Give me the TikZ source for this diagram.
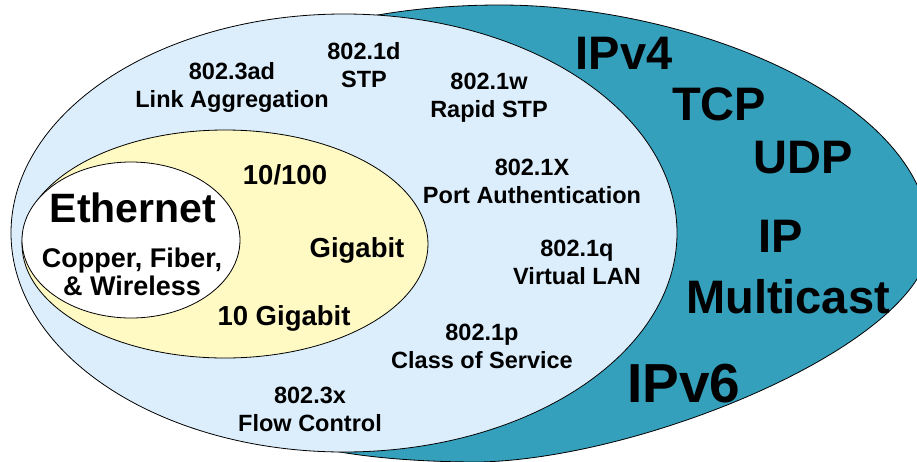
\documentclass[tikz,border=0pt]{standalone}
\usepackage{fontspec}
\setmainfont{Liberation Sans}
\usepackage{tikz}

\definecolor{ipteal}{RGB}{52,160,188}
\definecolor{lanblue}{RGB}{220,238,252}
\definecolor{phyyellow}{RGB}{255,249,196}

\begin{document}
\begin{tikzpicture}[x=1pt,y=-1pt,
  rim/.style={draw=black,line width=0.8pt},
  std/.style={font=\bfseries\fontsize{23.5}{28}\selectfont,align=center,inner sep=0pt},
  speed/.style={font=\bfseries\fontsize{27.5}{30}\selectfont,inner sep=0pt},
  proto/.style={font=\bfseries\fontsize{47}{50}\selectfont,inner sep=0pt}]
\useasboundingbox (0,0) rectangle (917,461);
\clip (0,0) rectangle (917,461);

% Draw upper layer protocols
\filldraw[rim,fill=ipteal] (500,5) .. controls (690,5) and (930,100) .. (930,240)
  .. controls (930,340) and (650,458) .. (480,462)
  .. controls (250,462) and (120,400) .. (120,233)
  .. controls (120,80) and (300,5) .. (500,5) -- cycle;

% IEEE 802 standards
\filldraw[rim,fill=lanblue] (344,233) ellipse [x radius=333, y radius=219];

% Speeds
\filldraw[rim,fill=phyyellow] (225,244) ellipse [x radius=203, y radius=114];

% Ethernet core
\filldraw[rim,fill=white] (131,240) ellipse [x radius=109, y radius=78];

% Labels in the core
\node[font=\bfseries\fontsize{41}{44}\selectfont,inner sep=0pt] (eth) at (133,208) {Ethernet};
\node[font=\bfseries\fontsize{27}{28}\selectfont,align=center,inner sep=0pt] (media) at (132,272) {Copper, Fiber,\\\& Wireless};

% Speed labels
\node[speed] (fast) at (285,175) {10/100};
\node[speed] (gig) at (357,250) {Gigabit};
\node[speed] (tengig) at (284,318) {10 Gigabit};

% Standards
\node[std] (lag) at (232,87) {802.3ad\\Link Aggregation};
\node[std] (stp) at (364,65) {802.1d\\STP};
\node[std] (rstp) at (489,98) {802.1w\\Rapid STP};
\node[std] (pauth) at (532,181) {802.1X\\Port Authentication};
\node[std] (vlan) at (577,262) {802.1q\\Virtual LAN};
\node[std] (cos) at (482,346) {802.1p\\Class of Service};
\node[std] (flow) at (310,409) {802.3x\\Flow Control};

% Protocols
\node[proto] (ipv4) at (624,53) {IPv4};
\node[proto] (tcp) at (719,104) {TCP};
\node[proto] (udp) at (803,158) {UDP};
\node[proto] (ip) at (781,236) {IP};
\node[proto] (mcast) at (788,297) {Multicast};
\node[proto,font=\bfseries\fontsize{55}{58}\selectfont] (ipv6) at (684,384) {IPv6};
\end{tikzpicture}
\end{document}
